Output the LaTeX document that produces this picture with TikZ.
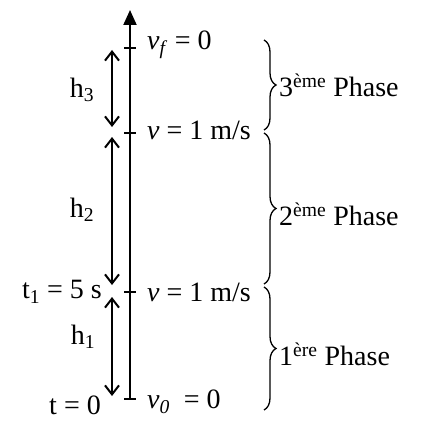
\documentclass[tikz,border=0pt]{standalone}
\usepackage{fontspec}
\setmainfont{Liberation Serif}
\usetikzlibrary{arrows.meta,positioning,decorations.pathreplacing}

\tikzset{
  axisline/.style = {line width=2pt, -{Triangle[length=15pt,width=13pt]}},
  tickmark/.style = {line width=1.4pt},
  harr/.style     = {{Straight Barb[length=9pt,width=14pt]}-{Straight Barb[length=9pt,width=14pt]},
                     line width=2pt},
  pbrace/.style   = {decorate, decoration={brace,amplitude=12pt}, line width=1.3pt},
  lbl/.style      = {font=\fontsize{28}{32}\selectfont, inner sep=2pt},
}

\begin{document}
\begin{tikzpicture}[x=1pt,y=1pt]
\useasboundingbox (0,0) rectangle (427,421);

%% points on the axis
\coordinate (p0)  at (130,22);
\coordinate (p1)  at (130,129);
\coordinate (p2)  at (130,288);
\coordinate (p3)  at (130,373);
\coordinate (top) at (130,411);

%% axis and ticks
\draw[axisline] (p0) -- (top);
\foreach \q in {p0,p1,p2,p3}
  \draw[tickmark] ([xshift=-6pt]\q) -- ([xshift=6pt]\q);

%% heights h1, h2, h3
\coordinate (h3t) at (112,371);
\coordinate (h3b) at (112,294);
\coordinate (h2t) at (112,284);
\coordinate (h2b) at (112,136);
\coordinate (h1t) at (112,124);
\coordinate (h1b) at (112,25);
\draw[harr] (h3t) -- (h3b);
\draw[harr] (h2t) -- (h2b);
\draw[harr] (h1t) -- (h1b);
\node[lbl] (h3) at (82,331) {h\textsubscript{3}};
\node[lbl] (h2) at (82,211) {h\textsubscript{2}};
\node[lbl] (h1) at (83,84)  {h\textsubscript{1}};

%% times (left)
\node[lbl, left=26pt of p1]              (t1) {t\textsubscript{1} = 5 s};
\node[lbl, left=28pt of p0, yshift=-6pt, inner sep=1pt] (t0) {t = 0};

%% velocities (right)
\node[lbl, right=15pt of p3, yshift=3pt]  (vf)  {\textit{v}\textsubscript{\textit{f}} = 0};
\node[lbl, right=15pt of p2, yshift=3pt]  (v2)  {\textit{v} = 1 m/s};
\node[lbl, right=15pt of p1]              (v1)  {\textit{v} = 1 m/s};
\node[lbl, right=15pt of p0, yshift=-3pt] (v0)  {\textit{v}\textsubscript{\textit{0}}\enspace = 0};

%% phases
\coordinate (b3t) at (264,381);
\coordinate (b3b) at (264,291);
\coordinate (b2t) at (264,288);
\coordinate (b2b) at (264,137);
\coordinate (b1t) at (264,134);
\coordinate (b1b) at (264,11);
\draw[pbrace] (b3t) -- (b3b);
\draw[pbrace] (b2t) -- (b2b);
\draw[pbrace] (b1t) -- (b1b);
\node[lbl, anchor=west] (ph3) at (277,336) {3\textsuperscript{ème} Phase};
\node[lbl, anchor=west] (ph2) at (277,207) {2\textsuperscript{ème} Phase};
\node[lbl, anchor=west] (ph1) at (277,67)  {1\textsuperscript{ère} Phase};

\end{tikzpicture}
\end{document}
